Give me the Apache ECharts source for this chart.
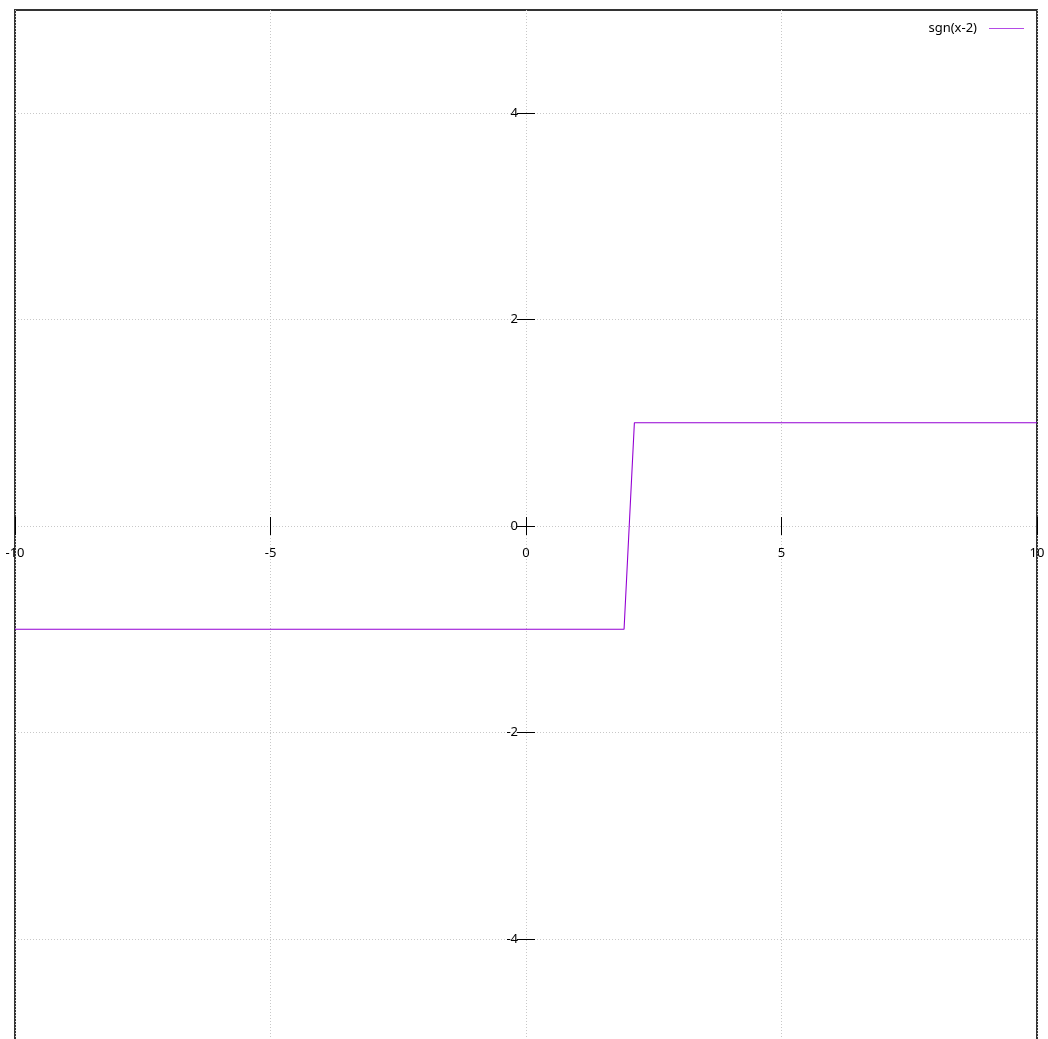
<!DOCTYPE html>
<html>
<head>
<meta charset="utf-8">
<script src="https://cdn.jsdelivr.net/npm/echarts@6/dist/echarts.min.js"></script>
<style>html,body{margin:0;padding:0;background:#fff}#c{width:1048px;height:1039px}</style>
</head>
<body>
<div id="c"></div>
<script>
var seriesName = 'sgn(x-2)';
var xValues = [-10, 1.919, 2.121, 10];
var yValues = [-1, -1, 1, 1];
var xTicks = [-10, -5, 0, 5, 10];
var yTicks = [-4, -2, 0, 2, 4];

var chart = echarts.init(document.getElementById('c'), null, {renderer: 'canvas'});
var font = 'Noto Sans';
var gridLeft = 15, gridTop = 10, gridW = 1022, gridH = 1032;
// distance from grid edges to the zero lines (axes through the origin)
var xZeroOffset = -(gridH / 2);
var yZeroOffset = -(gridW / 2);
var gridLine = {show: true, lineStyle: {color: '#c8c8c8', width: 1, type: [1, 2]}};
function xAx(pos, showLabel) {
  return {
    type: 'value', min: -10, max: 10, interval: 5, position: pos, offset: xZeroOffset,
    axisLine: {show: false, onZero: false},
    axisTick: {show: true, inside: false, length: 9, lineStyle: {color: '#000', width: 1}},
    axisLabel: {show: showLabel, margin: 21, fontFamily: font, fontSize: 13, color: '#000', showMinLabel: true, showMaxLabel: true},
    splitLine: showLabel ? gridLine : {show: false}
  };
}
function yAx(pos, showLabel) {
  return {
    type: 'value', min: -5, max: 5, position: pos, offset: yZeroOffset,
    axisLine: {show: false, onZero: false},
    axisTick: {show: true, inside: false, length: 9, customValues: yTicks, lineStyle: {color: '#000', width: 1}},
    axisLabel: {show: showLabel, margin: 8, customValues: yTicks, fontFamily: font, fontSize: 13, color: '#000'},
    splitLine: showLabel ? gridLine : {show: false}
  };
}
chart.setOption({
  animation: false,
  backgroundColor: '#fff',
  grid: {left: gridLeft, top: gridTop, width: gridW, height: gridH, containLabel: false, outerBoundsMode: 'none',
         show: true, borderColor: '#333', borderWidth: 2, backgroundColor: 'transparent'},
  legend: {
    right: 24, top: 22, padding: 0, align: 'right', itemWidth: 35, itemHeight: 1.2, itemGap: 10, icon: 'rect',
    itemStyle: {color: '#b44be6'},
    textStyle: {fontFamily: font, fontSize: 13, color: '#000', padding: [0, 7, 0, 0]},
    data: [{name: seriesName}]
  },
  xAxis: [xAx('bottom', true), xAx('top', false)],
  yAxis: [yAx('left', true), yAx('right', false)],
  series: [{
    name: seriesName, type: 'line', xAxisIndex: 0, yAxisIndex: 0,
    symbol: 'none', clip: true,
    lineStyle: {color: '#9400d3', width: 1.1},
    itemStyle: {color: '#9400d3'},
    data: xValues.map(function (x, i) { return [x, yValues[i]]; })
  }]
});
</script>
</body>
</html>
